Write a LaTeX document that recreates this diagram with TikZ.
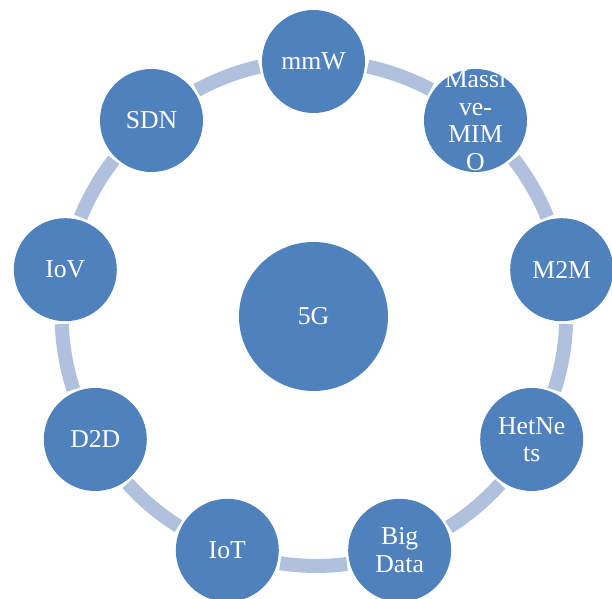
\documentclass[tikz,border=0pt]{standalone}
\usepackage{fontspec}
\setmainfont{Liberation Serif}
\usetikzlibrary{backgrounds}
\definecolor{bubblue}{HTML}{4F81BD}
\definecolor{bandblue}{HTML}{B0C1DD}
\tikzset{
  bub/.style={circle, fill=bubblue, minimum size=77.25pt, inner sep=0pt, outer sep=0pt,
              text=white, font=\fontsize{19.3}{20.6}\selectfont, align=center},
  hub/.style={bub, minimum size=111.75pt},
  txt/.style={text=white, font=\fontsize{19.3}{20.6}\selectfont, align=center, inner sep=0pt},
  band/.style={draw=bandblue, line width=10.5pt, line cap=butt, shorten <=2.25pt, shorten >=2.25pt, looseness=0.86}
}
\begin{document}
\begin{tikzpicture}[x=0.75pt, y=-0.75pt]
\useasboundingbox (0,0) rectangle (612,599);
\node[hub] (g5) at (313.5,316.5) {5G};
\node[bub] (mmw)  at (313.5,61.5) {mmW};
\node[bub] (mimo) at (475.5,120.5) {};
\node[txt] (mimot) at (mimo.center) {Massi\\ve-\\MIM\\O};
\node[bub] (m2m)  at (561.7,269.7) {M2M};
\node[bub] (het)  at (531.7,439.5) {HetNe\\ts};
\node[bub] (big)  at (399.7,550.3) {Big\\Data};
\node[bub] (iot)  at (227.3,550.3) {IoT};
\node[bub] (d2d)  at (95.3,439.5) {D2D};
\node[bub] (iov)  at (65.3,269.7) {IoV};
\node[bub] (sdn)  at (151.5,120.5) {SDN};
\begin{scope}[on background layer]
\draw[band] (mmw.-5.87)   to[bend left=8.27] (mimo.145.87);
\draw[band] (mimo.-45.87) to[bend left=8.27] (m2m.105.87);
\draw[band] (m2m.-85.87)  to[bend left=8.27] (het.65.87);
\draw[band] (het.-125.87) to[bend left=8.27] (big.25.87);
\draw[band] (big.-165.87) to[bend left=8.27] (iot.-14.13);
\draw[band] (iot.154.13)  to[bend left=8.27] (d2d.-54.13);
\draw[band] (d2d.114.13)  to[bend left=8.27] (iov.-94.13);
\draw[band] (iov.74.13)   to[bend left=8.27] (sdn.-134.13);
\draw[band] (sdn.34.13)   to[bend left=8.27] (mmw.185.87);
\end{scope}
\end{tikzpicture}
\end{document}
